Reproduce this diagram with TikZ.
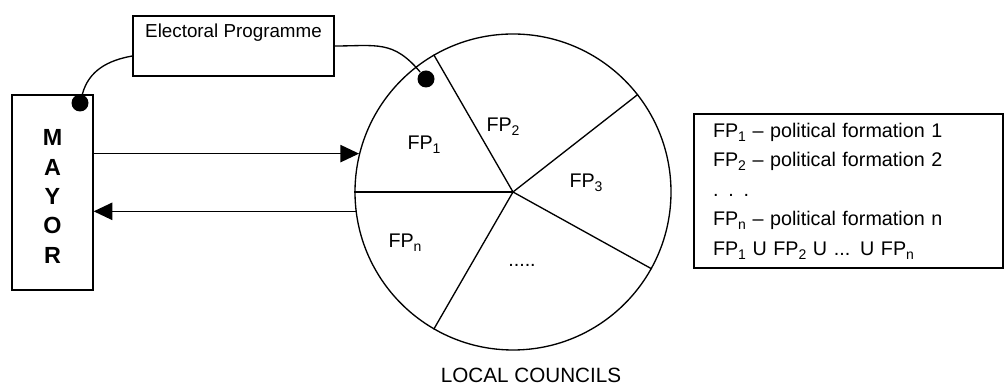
\documentclass[tikz,border=0pt]{standalone}
\usepackage{fontspec}
\setmainfont{Liberation Sans}
\usetikzlibrary{calc,arrows.meta}

\newcommand{\fpsub}[1]{\raisebox{-3pt}{\fontsize{10.5}{12}\selectfont #1}}

\tikzset{
  box/.style={draw=black, line width=1pt, inner sep=0pt},
  blob/.style={circle, fill=black, inner sep=0pt, minimum size=12.75pt},
  arr/.style={-{Triangle[length=14pt,width=13pt]}},
  lab/.style={font=\fontsize{14.8}{17}\selectfont},
}

\begin{document}
\begin{tikzpicture}[x=0.75pt, y=0.75pt, line width=1pt]
\useasboundingbox (0,0) rectangle (1004,388);

\node[box, minimum width=60.75pt, minimum height=146.25pt] (mayor) at (52.5,195.5) {};
\node[align=center, font=\bfseries\fontsize{17.5}{22.1}\selectfont] (mayorname) at ($(mayor) + (0,-4)$) {M\\A\\Y\\O\\R};

\node[box, minimum width=150.75pt, minimum height=45pt] (prog) at (233.5,342) {};
\node[anchor=base, font=\fontsize{14.1}{16}\selectfont] (progtxt) at (233.5,350) {Electoral Programme};

\node[box, circle, minimum size=237pt] (council) at (513,196) {};

\draw (council.center) -- (council.120);
\draw (council.center) -- (council.38.5);
\draw (council.center) -- (council.-29);
\draw (council.center) -- (council.-120);
\draw (council.center) -- (council.180);

\node[lab] (fp1) at ($(council) + (-89,47)$) {FP\fpsub{1}};
\node[lab] (fp2) at ($(council) + (-10,65)$) {FP\fpsub{2}};
\node[lab] (fp3) at ($(council) + (73,9)$) {FP\fpsub{3}};
\node[lab] (fpn) at ($(council) + (-108,-51)$) {FP\fpsub{n}};
\node[lab] (more) at ($(council) + (9,-73)$) {.....};
\node[font=\fontsize{15.5}{18}\selectfont] (title) at ($(council) + (18,-183)$) {LOCAL COUNCILS};

\node[blob] (mdot) at (80,285) {};
\node[blob] (pdot) at (426,309) {};

\draw (mdot) to[out=75, in=190] ([yshift=-7.5pt]prog.west);
\draw (prog.east) to[out=0, in=130, looseness=1.2] (pdot);

\draw[arr] (mayor.east |- council.166) -- (council.166);
\draw[arr] (council.187) -- (council.187 -| mayor.east);

\node[box, minimum width=231.75pt, minimum height=115.5pt, text width=203.25pt, inner xsep=14.25pt, align=left, font=\fontsize{14.8}{22.1}\selectfont] (legend) at (848.5,197) {FP\fpsub{1} \textendash{} political formation 1\\
FP\fpsub{2} \textendash{} political formation 2\\
. . .\\
FP\fpsub{n} \textendash{} political formation n\\
FP\fpsub{1} U FP\fpsub{2} U ... U FP\fpsub{n}};

\end{tikzpicture}
\end{document}
